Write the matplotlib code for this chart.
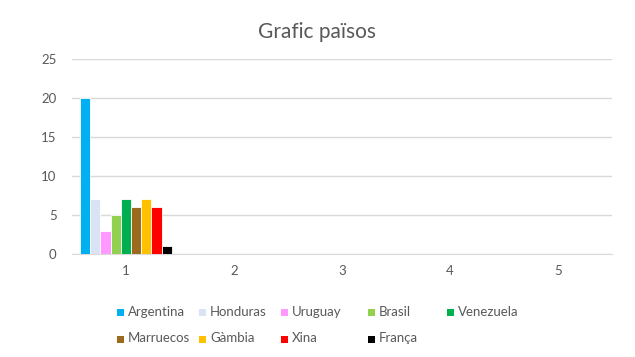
import matplotlib
matplotlib.use("Agg")
import matplotlib.pyplot as plt
from matplotlib.patches import Rectangle
import numpy as np

categories = [1, 2, 3, 4, 5]
series_names = ["Argentina", "Honduras", "Uruguay", "Brasil", "Venezuela",
                "Marruecos", "Gàmbia", "Xina", "França"]
series_values = [
    [20, None, None, None, None],
    [7, None, None, None, None],
    [3, None, None, None, None],
    [5, None, None, None, None],
    [7, None, None, None, None],
    [6, None, None, None, None],
    [7, None, None, None, None],
    [6, None, None, None, None],
    [1, None, None, None, None],
]
colors = ["#00B0F0", "#DAE3F3", "#FF99FF", "#92D050", "#00B050",
          "#9C6A1E", "#FFC000", "#FF0000", "#000000"]
yticks = [0, 5, 10, 15, 20, 25]

plt.rcParams['font.family'] = ['Lato', 'DejaVu Sans']
txt = "#595959"

W, H = 635, 357
fig = plt.figure(figsize=(6.35, 3.57), dpi=100)
ax = fig.add_axes([0.1134, 0.2885, 0.850, 0.546])

n = len(series_names)
w = 0.0945
x = np.array(categories, dtype=float)
for i, (name, vals, c) in enumerate(zip(series_names, series_values, colors)):
    v = np.array([np.nan if a is None else a for a in vals], dtype=float)
    off = (i - (n - 1) / 2) * w
    ax.bar(x + off, v, width=w, color=c, edgecolor="white", linewidth=0.6,
           label=name, zorder=3)

ax.set_xlim(0.5, 5.5)
ax.set_ylim(0, 25)
ax.set_yticks(yticks)
ax.set_xticks(categories)
ax.grid(axis="y", color="#D9D9D9", linewidth=1, zorder=0)
for s in ["top", "right", "left"]:
    ax.spines[s].set_visible(False)
ax.spines["bottom"].set_color("#D9D9D9")
ax.tick_params(axis="both", length=0, labelsize=9.5, labelcolor=txt)
ax.tick_params(axis="x", pad=8)
ax.tick_params(axis="y", pad=11)

fig.text(0.5, 0.91, "Grafic països", ha="center", va="center",
         fontsize=15, color=txt)

# legend laid out row-major like the original
col_x = [117, 199, 281, 368, 447]
row_y = [312, 339]
sq = 7
for i, (name, c) in enumerate(zip(series_names, colors)):
    r, k = divmod(i, 5)
    px, py = col_x[k], row_y[r]
    fig.patches.append(Rectangle((px / W, 1 - (py + sq / 2) / H), sq / W, sq / H,
                                 transform=fig.transFigure, facecolor=c,
                                 edgecolor="none"))
    fig.text((px + sq + 4) / W, 1 - (py + 3.5) / H, name, ha="left",
             va="baseline", fontsize=9.5, color=txt)

fig.savefig("out.png", dpi=100)
